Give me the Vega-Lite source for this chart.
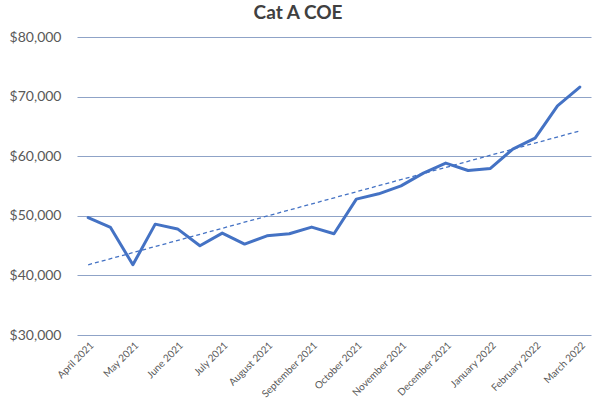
{
  "$schema": "https://vega.github.io/schema/vega-lite/v6.json",
  "description": "Cat A COE premiums, two bidding rounds per month, April 2021 to March 2022, with a linear trendline.",
  "autosize": {"type": "none"},
  "width": 514,
  "height": 298,
  "padding": {"left": 77, "top": 37, "right": 9, "bottom": 65},
  "background": "white",
  "title": {
    "text": "Cat A COE",
    "font": "Lato",
    "fontSize": 19,
    "fontWeight": "bold",
    "color": "#404040",
    "anchor": "middle",
    "dx": -36,
    "offset": 7
  },
  "config": {
    "view": {"stroke": null},
    "axis": {"labelFont": "Lato", "labelColor": "#595959"}
  },
  "data": {
    "values": [
      {"idx": 0, "round": "April 2021 (1)", "premium": 49700},
      {"idx": 1, "round": "April 2021 (2)", "premium": 48040},
      {"idx": 2, "round": "May 2021 (1)", "premium": 41780},
      {"idx": 3, "round": "May 2021 (2)", "premium": 48600},
      {"idx": 4, "round": "June 2021 (1)", "premium": 47800},
      {"idx": 5, "round": "June 2021 (2)", "premium": 44970},
      {"idx": 6, "round": "July 2021 (1)", "premium": 47100},
      {"idx": 7, "round": "July 2021 (2)", "premium": 45250},
      {"idx": 8, "round": "August 2021 (1)", "premium": 46640},
      {"idx": 9, "round": "August 2021 (2)", "premium": 46980},
      {"idx": 10, "round": "September 2021 (1)", "premium": 48100},
      {"idx": 11, "round": "September 2021 (2)", "premium": 46980},
      {"idx": 12, "round": "October 2021 (1)", "premium": 52800},
      {"idx": 13, "round": "October 2021 (2)", "premium": 53690},
      {"idx": 14, "round": "November 2021 (1)", "premium": 55030},
      {"idx": 15, "round": "November 2021 (2)", "premium": 57160},
      {"idx": 16, "round": "December 2021 (1)", "premium": 58840},
      {"idx": 17, "round": "December 2021 (2)", "premium": 57600},
      {"idx": 18, "round": "January 2022 (1)", "premium": 57940},
      {"idx": 19, "round": "January 2022 (2)", "premium": 61190},
      {"idx": 20, "round": "February 2022 (1)", "premium": 63030},
      {"idx": 21, "round": "February 2022 (2)", "premium": 68460},
      {"idx": 22, "round": "March 2022 (1)", "premium": 71600}
    ]
  },
  "encoding": {
    "x": {
      "field": "idx",
      "type": "quantitative",
      "scale": {"domain": [-0.5, 22.5], "nice": false, "zero": false},
      "axis": {
        "title": null,
        "values": [0, 2, 4, 6, 8, 10, 12, 14, 16, 18, 20, 22],
        "labelExpr": "['April 2021','May 2021','June 2021','July 2021','August 2021','September 2021','October 2021','November 2021','December 2021','January 2022','February 2022','March 2022'][datum.value / 2]",
        "labelAngle": -45,
        "labelAlign": "right",
        "labelBaseline": "top",
        "labelFontSize": 10,
        "labelPadding": 5,
        "labelOverlap": false,
        "labelBound": false,
        "labelFlush": false,
        "domain": false,
        "ticks": false,
        "grid": false
      }
    },
    "y": {
      "field": "premium",
      "type": "quantitative",
      "scale": {"domain": [30000, 80000], "nice": false, "zero": false},
      "axis": {
        "title": null,
        "values": [30000, 40000, 50000, 60000, 70000, 80000],
        "format": "$,.0f",
        "labelFontSize": 14,
        "labelPadding": 16,
        "domain": false,
        "ticks": false,
        "grid": true,
        "gridColor": "#8FA3C7",
        "gridWidth": 1
      }
    }
  },
  "layer": [
    {
      "mark": {"type": "line", "color": "#4472C4", "strokeWidth": 3, "strokeJoin": "round", "strokeCap": "round"},
      "encoding": {"tooltip": [{"field": "round"}, {"field": "premium", "format": "$,.0f"}]}
    },
    {
      "transform": [{"regression": "premium", "on": "idx"}],
      "mark": {"type": "line", "color": "#4472C4", "strokeWidth": 1.3, "strokeDash": [4, 3]},
      "encoding": {}
    }
  ]
}
